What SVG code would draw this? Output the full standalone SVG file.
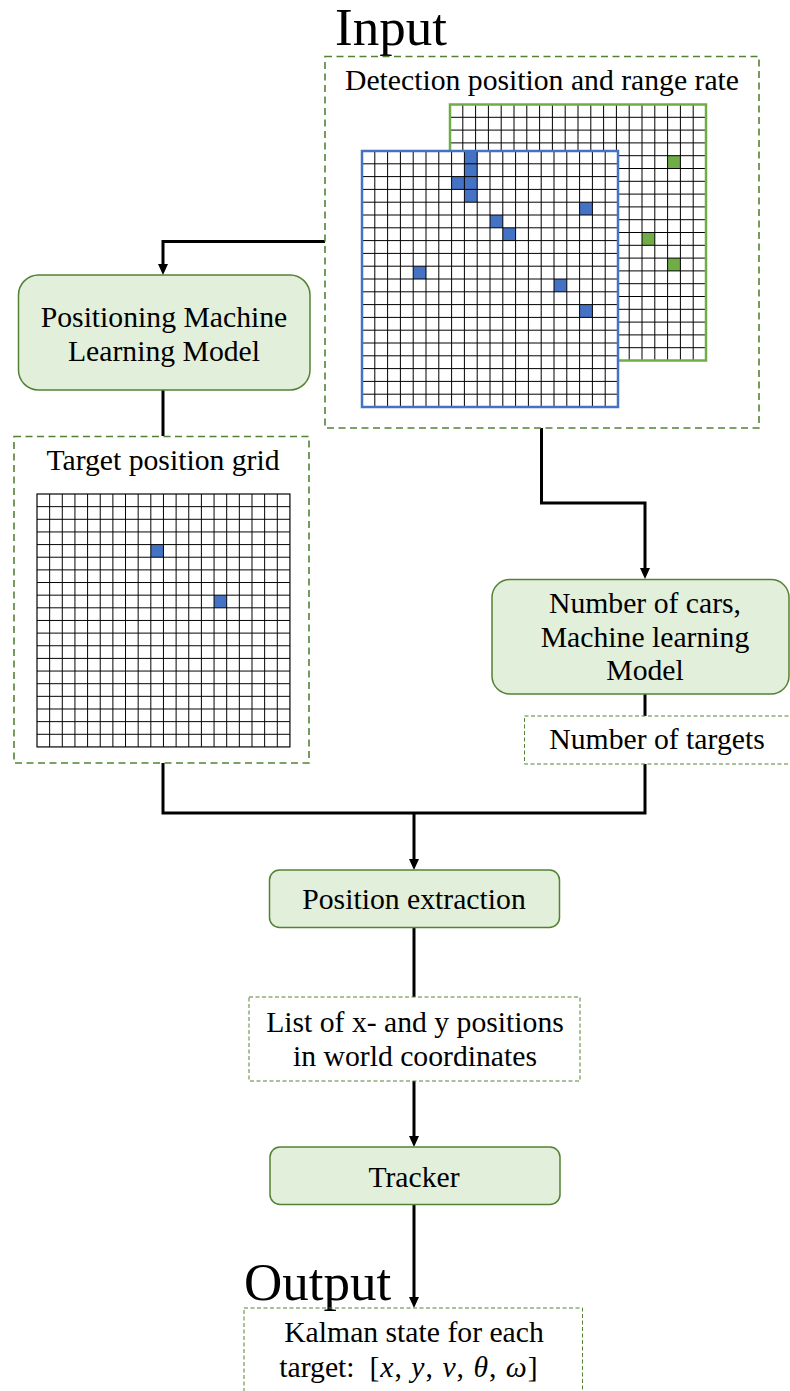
<svg xmlns="http://www.w3.org/2000/svg" xmlns:xlink="http://www.w3.org/1999/xlink" width="790" height="1391" viewBox="0 0 790 1391">
  <style>
    text { font-family: "Liberation Serif", "Times New Roman", serif; fill: #000; }
    .lbl { font-size: 29.7px; text-anchor: middle; }
    .big { font-size: 53px; }
    .node { fill: #E2EFDA; stroke: #548235; stroke-width: 1.5; }
    .dash-wide { fill: none; stroke: #548235; stroke-width: 1.6; stroke-dasharray: 7 4.5; }
    .dash-fine { fill: none; stroke: #548235; stroke-width: 1; stroke-dasharray: 4 2.5; }
    .wire { fill: none; stroke: #000; stroke-width: 3; }
    .gridlines { fill: none; stroke: #000; stroke-width: 1; }
    .cell-blue { fill: #4472C4; }
    .cell-green { fill: #70AD47; }
    .ital { font-style: italic; }
    .math { letter-spacing: 1px; }
  </style>
  <defs>
    <marker id="arrow" markerUnits="userSpaceOnUse" markerWidth="12" markerHeight="12" refX="1" refY="5" orient="auto">
      <path d="M0,0 L11,5 L0,10 z" fill="#000"/>
    </marker>
    <!-- 20 x 20 cell lattice, 256 px square, 12.8 px pitch -->
    <path id="lattice" class="gridlines" d="M12.8,0V256M25.6,0V256M38.4,0V256M51.2,0V256M64,0V256M76.8,0V256M89.6,0V256M102.4,0V256M115.2,0V256M128,0V256M140.8,0V256M153.6,0V256M166.4,0V256M179.2,0V256M192,0V256M204.8,0V256M217.6,0V256M230.4,0V256M243.2,0V256M0,12.8H256M0,25.6H256M0,38.4H256M0,51.2H256M0,64H256M0,76.8H256M0,89.6H256M0,102.4H256M0,115.2H256M0,128H256M0,140.8H256M0,153.6H256M0,166.4H256M0,179.2H256M0,192H256M0,204.8H256M0,217.6H256M0,230.4H256M0,243.2H256"/>
  </defs>

  <rect width="790" height="1391" fill="#fff"/>

  <!-- connectors -->
  <g id="connectors">
    <path class="wire" d="M325,241.5 H163 V265" marker-end="url(#arrow)"/>
    <path class="wire" d="M163,390 V436"/>
    <path class="wire" d="M541.5,428 V503 H645 V569" marker-end="url(#arrow)"/>
    <path class="wire" d="M645,694 V716"/>
    <path class="wire" d="M163,763 V813 H645 V764"/>
    <path class="wire" d="M414,813 V860" marker-end="url(#arrow)"/>
    <path class="wire" d="M414,927.5 V997"/>
    <path class="wire" d="M414,1081 V1137" marker-end="url(#arrow)"/>
    <path class="wire" d="M414,1204 V1298" marker-end="url(#arrow)"/>
  </g>

  <!-- input: detection grids -->
  <g id="input">
    <text class="big" x="335" y="45">Input</text>
    <rect class="dash-wide" x="325" y="56.5" width="434" height="371.5"/>
    <text class="lbl" x="542" y="90">Detection position and range rate</text>

    <!-- range-rate grid (back) -->
    <g id="grid-range-rate" transform="translate(450,104.5)">
      <rect width="256" height="256" fill="#fff"/>
      <rect class="cell-green" x="217.6" y="51.2" width="12.8" height="12.8"/>
      <rect class="cell-green" x="192" y="128" width="12.8" height="12.8"/>
      <rect class="cell-green" x="217.6" y="153.6" width="12.8" height="12.8"/>
      <use xlink:href="#lattice"/>
      <rect width="256" height="256" fill="none" stroke="#70AD47" stroke-width="2.5"/>
    </g>

    <!-- detection position grid (front) -->
    <g id="grid-position" transform="translate(362,151)">
      <rect width="256" height="256" fill="#fff"/>
      <rect class="cell-blue" x="102.4" y="0" width="12.8" height="51.2"/>
      <rect class="cell-blue" x="89.6" y="25.6" width="12.8" height="12.8"/>
      <rect class="cell-blue" x="217.6" y="51.2" width="12.8" height="12.8"/>
      <rect class="cell-blue" x="128" y="64" width="12.8" height="12.8"/>
      <rect class="cell-blue" x="140.8" y="76.8" width="12.8" height="12.8"/>
      <rect class="cell-blue" x="51.2" y="115.2" width="12.8" height="12.8"/>
      <rect class="cell-blue" x="192" y="128" width="12.8" height="12.8"/>
      <rect class="cell-blue" x="217.6" y="153.6" width="12.8" height="12.8"/>
      <use xlink:href="#lattice"/>
      <rect width="256" height="256" fill="none" stroke="#4472C4" stroke-width="2.5"/>
    </g>
  </g>

  <g id="positioning-model">
    <rect class="node" x="18.5" y="275" width="291.5" height="115" rx="20"/>
    <text class="lbl" x="164" y="327">Positioning Machine</text>
    <text class="lbl" x="164" y="361">Learning Model</text>
  </g>

  <g id="target-grid">
    <rect class="dash-wide" x="14" y="436.5" width="295" height="326.5"/>
    <text class="lbl" x="163" y="470">Target position grid</text>
    <g transform="translate(37,494) scale(0.988)">
      <rect width="256" height="256" fill="#fff"/>
      <rect class="cell-blue" x="115.2" y="51.2" width="12.8" height="12.8"/>
      <rect class="cell-blue" x="179.2" y="102.4" width="12.8" height="12.8"/>
      <use xlink:href="#lattice"/>
      <rect width="256" height="256" fill="none" stroke="#000" stroke-width="1.2"/>
    </g>
  </g>

  <g id="count-model">
    <rect class="node" x="492" y="579.5" width="297" height="114.5" rx="18"/>
    <text class="lbl" x="645" y="613">Number of cars,</text>
    <text class="lbl" x="645" y="647">Machine learning</text>
    <text class="lbl" x="645" y="680">Model</text>
  </g>

  <g id="target-count">
    <rect class="dash-fine" x="524.5" y="716" width="280" height="48"/>
    <text class="lbl" x="657" y="749">Number of targets</text>
  </g>

  <g id="position-extraction">
    <rect class="node" x="269.5" y="870" width="290" height="57.5" rx="10"/>
    <text class="lbl" x="414" y="909">Position extraction</text>
  </g>

  <g id="position-list">
    <rect class="dash-fine" x="249" y="997" width="331" height="84"/>
    <text class="lbl" x="415" y="1032">List of x- and y positions</text>
    <text class="lbl" x="415" y="1066">in world coordinates</text>
  </g>

  <g id="tracker">
    <rect class="node" x="270" y="1147" width="290" height="57.5" rx="10"/>
    <text class="lbl" x="414" y="1187">Tracker</text>
  </g>

  <g id="output">
    <text class="big" x="244" y="1300">Output</text>
    <rect class="dash-fine" x="244" y="1308" width="338.5" height="100"/>
    <text class="lbl" x="414" y="1342">Kalman state for each</text>
    <text class="lbl" x="409" y="1377" xml:space="preserve">target:  <tspan class="math">[<tspan class="ital">x</tspan>, <tspan class="ital">y</tspan>, <tspan class="ital">v</tspan>, <tspan class="ital">θ</tspan>, <tspan class="ital">ω</tspan>]</tspan></text>
  </g>
</svg>
